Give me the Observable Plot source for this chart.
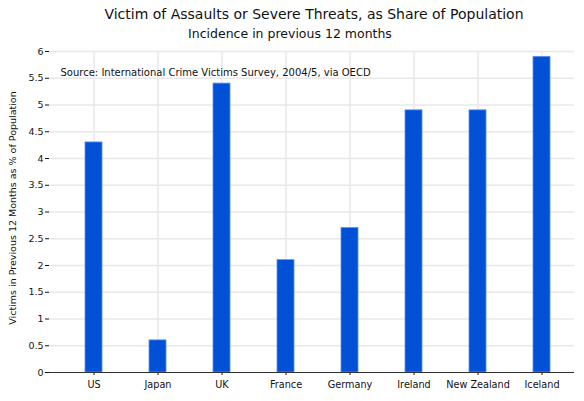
<!DOCTYPE html>
<html>
<head>
<meta charset="utf-8">
<script src="https://cdn.jsdelivr.net/npm/d3@7"></script>
<script src="https://cdn.jsdelivr.net/npm/@observablehq/plot@0.6"></script>
<style>
  body { margin: 0; background: #fff; font-family: "DejaVu Sans", sans-serif; }
  #wrap { position: relative; width: 584px; }
  #head { position: relative; height: 42px; }
  #head span { position: absolute; transform: translateX(-50%); white-space: nowrap; color: #111; }
  #title { left: 314px; top: 6px; font-size: 14px; }
  #subtitle { left: 290px; top: 26px; font-size: 12.5px; }
  svg { display: block; }
</style>
</head>
<body>
<div id="wrap">
  <div id="head">
    <span id="title">Victim of Assaults or Severe Threats, as Share of Population</span>
    <span id="subtitle">Incidence in previous 12 months</span>
  </div>
  <div id="chart"></div>
</div>
<script>
const countries = ["US", "Japan", "UK", "France", "Germany", "Ireland", "New Zealand", "Iceland"];
const victims = [4.3, 0.6, 5.4, 2.1, 2.7, 4.9, 4.9, 5.9];
const yTicks = [0, 0.5, 1, 1.5, 2, 2.5, 3, 3.5, 4, 4.5, 5, 5.5, 6];
const source = "Source: International Crime Victims Survey, 2004/5, via OECD";
const yLabel = "Victims in Previous 12 Months as % of Population";

const data = countries.map((c, i) => ({country: c, value: victims[i]}));

const chart = Plot.plot({
  width: 584,
  height: 359,
  marginTop: 9,
  marginLeft: 49,
  marginRight: 10,
  marginBottom: 29,
  style: {fontFamily: "DejaVu Sans, sans-serif", fontSize: "9.5px", color: "#111"},
  x: {
    domain: countries,
    paddingInner: 0.735,
    paddingOuter: 0.3675,
    insetLeft: 12,
    label: null
  },
  y: {
    domain: [0, 6],
    ticks: yTicks,
    label: null
  },
  marks: [
    Plot.gridY(yTicks, {stroke: "#e8e8e8", strokeOpacity: 1, strokeWidth: 1.5}),
    Plot.gridX(countries, {stroke: "#e8e8e8", strokeOpacity: 1, strokeWidth: 1.5}),
    Plot.ruleX([0], {frameAnchor: "right", stroke: "#e8e8e8", strokeWidth: 1.5}),
    Plot.barY(data, {x: "country", y: "value", fill: "#0050d8", stroke: "#5b8fec", strokeWidth: 0.8}),
    Plot.axisY(yTicks, {tickSize: 4, tickPadding: 2, tickFormat: d => String(d), fontSize: 9.5, label: null}),
    Plot.axisX({tickSize: 3, tickPadding: 6, fontSize: 9.7, label: null}),
    Plot.ruleY([0], {stroke: "#333", strokeWidth: 1.2}),
    Plot.ruleX([0], {frameAnchor: "left", stroke: "#333", strokeWidth: 1.2}),
    Plot.text([source], {frameAnchor: "top-left", dx: 11, dy: 17, fontSize: 10, fill: "#111"}),
    Plot.text([yLabel], {
      frameAnchor: "left", textAnchor: "middle", rotate: -90, dx: -37, dy: -4, fontSize: 9.5, fill: "#111"
    })
  ]
});

d3.select("#chart").append(() => chart);
</script>
</body>
</html>
